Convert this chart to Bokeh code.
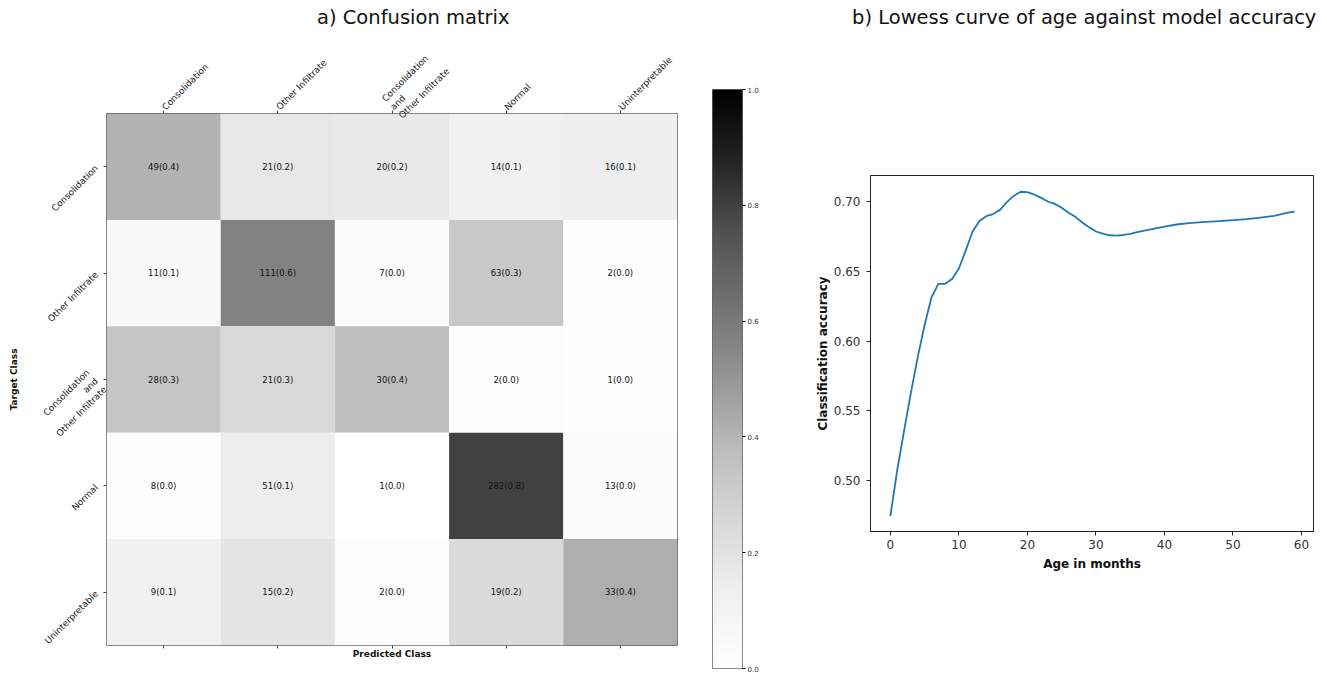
import numpy as np
from bokeh.plotting import figure
from bokeh.models import (ColumnDataSource, FactorRange, Range1d, CategoricalAxis,
                          FixedTicker, LinearColorMapper, NumeralTickFormatter, Div)
from bokeh.transform import linear_cmap
from bokeh.layouts import row, column
from bokeh.embed import file_html
from bokeh.resources import INLINE
from bokeh.core.properties import value

# ---------------- data ----------------
title_a = "a) Confusion matrix"
title_b = "b) Lowess curve of age against model accuracy"
classes = ["Consolidation", "Other Infiltrate", "Consolidation\nand\nOther Infiltrate",
           "Normal", "Uninterpretable"]
# rows = target class, columns = predicted class
counts_consolidation = [49, 21, 20, 14, 16]
counts_other_infiltrate = [11, 111, 7, 63, 2]
counts_cons_and_other = [28, 21, 30, 2, 1]
counts_normal = [8, 51, 1, 282, 13]
counts_uninterpretable = [9, 15, 2, 19, 33]
count_rows = [counts_consolidation, counts_other_infiltrate, counts_cons_and_other,
              counts_normal, counts_uninterpretable]

colorbar_ticks = [0.0, 0.2, 0.4, 0.6, 0.8, 1.0]

ages = [0, 1, 2, 3, 4, 5, 6, 7, 8, 9, 10, 11, 12, 13, 14, 15, 16, 17, 18, 19, 20,
        21, 22, 23, 24, 25, 26, 27, 28, 29, 30, 31, 32, 33, 34, 35, 36, 38, 40, 42,
        44, 46, 48, 50, 52, 54, 56, 58, 59]
accuracy = [0.4745, 0.5075, 0.5356, 0.563, 0.5886, 0.6115, 0.6313, 0.641, 0.641, 0.6445,
            0.652, 0.665, 0.6785, 0.686, 0.6895, 0.691, 0.694, 0.6995, 0.704, 0.707,
            0.7067, 0.705, 0.7026, 0.700, 0.6983, 0.6955, 0.692, 0.689, 0.685, 0.6816,
            0.6785, 0.677, 0.6758, 0.6756, 0.676, 0.6768, 0.678, 0.680, 0.682, 0.6837,
            0.6847, 0.6854, 0.686, 0.6866, 0.6873, 0.6885, 0.6897, 0.692, 0.6928]
age_ticks = [0, 10, 20, 30, 40, 50, 60]
acc_ticks = [0.50, 0.55, 0.60, 0.65, 0.70]

FONT = "DejaVu Sans"

# matplotlib-like "Greys" colormap (ColorBrewer anchors, linearly interpolated)
anchors = ['#ffffff', '#f0f0f0', '#d9d9d9', '#bdbdbd', '#969696', '#737373',
           '#525252', '#252525', '#000000']
anc = np.array([[int(c[i:i + 2], 16) for i in (1, 3, 5)] for c in anchors], dtype=float)
pos = np.linspace(0, 1, len(anchors))
t = np.linspace(0, 1, 256)
greys = ['#%02x%02x%02x' % tuple(int(round(np.interp(tt, pos, anc[:, k]))) for k in range(3))
         for tt in t]

TOP = 34          # height of the title strip
H = 673 - TOP     # height of the figures


def title_div(text, width, pad_left):
    html = ('<div style="font-family:\'DejaVu Sans\'; font-size:19.5px; color:#111111; '
            'text-align:left; line-height:24px; padding-top:6px; white-space:nowrap; '
            'padding-left:%dpx;">%s</div>' % (pad_left, text))
    return Div(text=html, width=width, height=TOP, margin=0)


# ---------------- confusion matrix ----------------
xs, ys, fr, lab = [], [], [], []
for i, r in enumerate(count_rows):
    tot = sum(r)
    for j, c in enumerate(r):
        xs.append(classes[j])
        ys.append(classes[i])
        f = c / tot
        fr.append(f)
        lab.append("%d(%.1f)" % (c, f))
src = ColumnDataSource(dict(x=xs, y=ys, frac=fr, label=lab))

pa = figure(width=690, height=H, x_range=FactorRange(*classes),
            y_range=FactorRange(*classes[::-1]), x_axis_location="above",
            output_backend="svg", toolbar_location=None, frame_align=False,
            min_border_left=106, min_border_right=13, min_border_top=113 - TOP,
            min_border_bottom=28)
pa.rect(x='x', y='y', width=1, height=1, source=src, line_color=None,
        fill_color=linear_cmap('frac', greys, 0, 1))
pa.text(x='x', y='y', text='label', source=src, text_align='center', text_baseline='middle',
        text_font_size='8.5px', text_font=value(FONT), text_color='#111111')
pa.grid.visible = False
pa.outline_line_color = '#666666'
pa.outline_line_width = 1

bax = CategoricalAxis()
pa.add_layout(bax, 'below')
for ax in pa.axis:
    ax.axis_line_color = None
    ax.major_tick_out = 3
    ax.major_tick_in = 0
    ax.major_tick_line_color = '#444444'
    ax.minor_tick_line_color = None
    ax.major_label_text_font = FONT
    ax.major_label_text_font_size = '9px'
    ax.major_label_text_color = '#222222'
    ax.major_label_orientation = np.pi / 4
    ax.axis_label_text_font = FONT
    ax.axis_label_text_font_style = 'bold'
    ax.axis_label_text_font_size = '9px'
    ax.axis_label_text_color = '#111111'
pa.above[0].major_label_standoff = 2
# bottom axis: ticks only, no tick labels
bax.major_label_text_color = None
bax.major_label_text_font_size = '2px'
bax.major_label_orientation = 'horizontal'
bax.major_label_standoff = 0
bax.axis_label = "Predicted Class"
bax.axis_label_standoff = 0
pa.yaxis.axis_label = "Target Class"
pa.yaxis.major_label_standoff = 7
pa.yaxis.axis_label_standoff = 3

# ---------------- colour bar ----------------
mapper = LinearColorMapper(palette=greys, low=0, high=1)
pc = figure(width=100, height=H, x_range=Range1d(0, 1), y_range=Range1d(0, 1),
            x_axis_location=None, y_axis_location="right",
            output_backend="svg", toolbar_location=None, frame_align=False,
            min_border_left=22, min_border_right=48, min_border_top=89 - TOP,
            min_border_bottom=5)
grad = np.linspace(0, 1, 256).reshape(-1, 1)
pc.image(image=[grad], x=0, y=0, dw=1, dh=1, color_mapper=mapper)
pc.grid.visible = False
pc.outline_line_color = '#666666'
pc.yaxis.ticker = FixedTicker(ticks=colorbar_ticks)
pc.yaxis.formatter = NumeralTickFormatter(format="0.0")
pc.yaxis.axis_line_color = None
pc.yaxis.major_tick_out = 3
pc.yaxis.major_tick_in = 0
pc.yaxis.minor_tick_line_color = None
pc.yaxis.major_label_text_font = FONT
pc.yaxis.major_label_text_font_size = '7px'
pc.yaxis.major_label_text_color = '#333333'
pc.yaxis.major_label_standoff = 2

# ---------------- lowess curve ----------------
pb = figure(width=537, height=H, x_range=Range1d(-2.9, 61.75), y_range=Range1d(0.46344, 0.71864),
            output_backend="svg", toolbar_location=None, frame_align=False,
            min_border_left=80, min_border_right=14, min_border_top=175 - TOP,
            min_border_bottom=142)
pb.line(ages, accuracy, line_color='#1f77b4', line_width=1.8)
pb.grid.visible = False
pb.outline_line_color = '#222222'
pb.outline_line_width = 1
pb.xaxis.ticker = FixedTicker(ticks=age_ticks)
pb.yaxis.ticker = FixedTicker(ticks=acc_ticks)
pb.yaxis.formatter = NumeralTickFormatter(format="0.00")
for ax in pb.axis:
    ax.axis_line_color = '#222222'
    ax.major_tick_out = 4
    ax.major_tick_in = 0
    ax.major_tick_line_color = '#222222'
    ax.minor_tick_line_color = None
    ax.major_label_text_font = FONT
    ax.major_label_text_font_size = '12px'
    ax.major_label_text_color = '#333333'
    ax.major_label_standoff = 4
    ax.axis_label_text_font = FONT
    ax.axis_label_text_font_style = 'bold'
    ax.axis_label_text_font_size = '12px'
    ax.axis_label_text_color = '#111111'
pb.yaxis.major_label_standoff = 6
pb.xaxis.axis_label = "Age in months"
pb.yaxis.axis_label = "Classification accuracy"
pb.xaxis.axis_label_standoff = 5
pb.yaxis.axis_label_standoff = 1

titles = row(title_div(title_a, 826, 317), title_div(title_b, 501, 26), spacing=0)
charts = row(pa, pc, pb, spacing=0)
layout = column(titles, charts, spacing=0)
open("out.html", "w").write(file_html(layout, INLINE))
